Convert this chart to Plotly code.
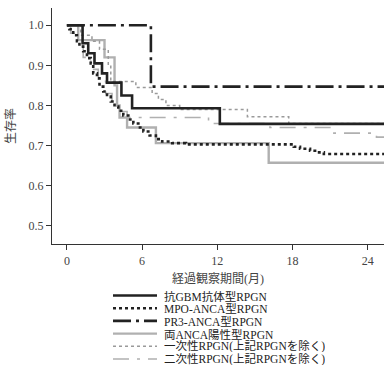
import plotly.graph_objects as go

# ---- data (months, survival) ----
names = ["抗GBM抗体型RPGN", "MPO-ANCA型RPGN", "PR3-ANCA型RPGN",
         "両ANCA陽性型RPGN", "一次性RPGN(上記RPGNを除く)", "二次性RPGN(上記RPGNを除く)"]

gbm_t = [0, 1.25, 1.7, 2.2, 2.8, 3.2, 4.35, 5.2, 12.2, 25.3]
gbm_s = [1.0, 0.955, 0.93, 0.905, 0.88, 0.857, 0.825, 0.793, 0.754, 0.754]

mpo_t = [0, 0.2, 0.5, 0.8, 1.0, 1.3, 1.6, 1.9, 2.1, 2.4, 2.6, 2.9, 3.2, 3.5, 3.8, 4.1,
         4.5, 4.9, 5.3, 5.7, 6.1, 6.6, 7.1, 7.6, 8.4, 9.5, 18.1, 18.6, 19.4, 20.0, 20.5, 25.3]
mpo_s = [1.0, 0.99, 0.975, 0.96, 0.947, 0.935, 0.918, 0.905, 0.88, 0.868, 0.847, 0.835,
         0.822, 0.81, 0.797, 0.787, 0.775, 0.765, 0.755, 0.745, 0.735, 0.725, 0.716, 0.71,
         0.706, 0.703, 0.697, 0.692, 0.687, 0.683, 0.679, 0.679]

pr3_t = [0, 6.7, 25.3]
pr3_s = [1.0, 0.847, 0.847]

both_t = [0, 0.9, 3.0, 3.8, 4.0, 4.2, 4.8, 7.1, 16.1, 25.3]
both_s = [1.0, 0.963, 0.92, 0.85, 0.80, 0.77, 0.745, 0.706, 0.657, 0.657]

prim_t = [0, 1.1, 2.0, 2.6, 3.3, 3.5, 5.5, 6.8, 7.3, 7.9, 9.0, 14.4, 17.7, 25.3]
prim_s = [1.0, 0.975, 0.96, 0.94, 0.9, 0.86, 0.845, 0.83, 0.815, 0.80, 0.79, 0.772, 0.755, 0.755]

sec_t = [0, 0.3, 0.8, 1.3, 1.9, 2.5, 3.1, 3.6, 4.2, 4.8, 11.3, 16.2, 21.3, 24.7, 25.3]
sec_s = [1.0, 0.98, 0.95, 0.92, 0.89, 0.86, 0.83, 0.80, 0.785, 0.77, 0.755, 0.745, 0.731, 0.721, 0.721]

x_ticks = [0, 6, 12, 18, 24]
y_ticks = [0.5, 0.6, 0.7, 0.8, 0.9, 1.0]
x_title = "経過観察期間(月)"
y_title = "生存率"

# ---- styles ----
styles = [
    dict(color="#222222", width=2.6, dash="solid"),
    dict(color="#222222", width=2.6, dash="dot"),
    dict(color="#222222", width=2.6, dash="18px,5px,3px,5px"),
    dict(color="#b0b0b0", width=2.4, dash="solid"),
    dict(color="#9a9a9a", width=1.5, dash="dot"),
    dict(color="#b0b0b0", width=1.6, dash="16px,8px,3px,8px"),
]
series = [(gbm_t, gbm_s), (mpo_t, mpo_s), (pr3_t, pr3_s),
          (both_t, both_s), (prim_t, prim_s), (sec_t, sec_s)]

FONT = "Liberation Serif, DejaVu Serif, Noto Sans CJK JP"
TXT = "#444444"

fig = go.Figure()
draw_order = [3, 5, 4, 1, 0, 2]
for i in draw_order:
    t, s = series[i]
    fig.add_trace(go.Scatter(x=t, y=s, mode="lines", line_shape="hv",
                             line=styles[i], name=names[i], showlegend=False,
                             hoverinfo="skip"))

W, H = 386, 366
ml, mr, mt, mb = 52, 2, 8, 122
pw, ph = W - ml - mr, H - mt - mb

def px2paper(px, py):
    return (px - ml) / pw, (H - mb - py) / ph

# manual legend
row_y = [295.5, 308.2, 320.9, 333.6, 346.3, 359]
shapes = []
annotations = []
for i, ry in enumerate(row_y):
    x0, y0 = px2paper(113, ry)
    x1, _ = px2paper(157, ry)
    shapes.append(dict(type="line", xref="paper", yref="paper", x0=x0, x1=x1, y0=y0, y1=y0,
                       line=styles[i]))
    tx, _ = px2paper(163, ry)
    annotations.append(dict(xref="paper", yref="paper", x=tx, y=y0, text=names[i],
                            showarrow=False, xanchor="left", yanchor="middle", height=12,
                            borderpad=0,
                            font=dict(family=FONT, size=11.5, color="#222222")))

fig.update_layout(
    width=W, height=H,
    margin=dict(l=ml, r=mr, t=mt, b=mb),
    paper_bgcolor="white", plot_bgcolor="white",
    font=dict(family=FONT, size=12, color=TXT),
    shapes=shapes, annotations=annotations,
    xaxis=dict(range=[-1.19, 25.3], tickvals=x_ticks, ticktext=[str(v) for v in x_ticks],
               showgrid=False, zeroline=False, showline=True, linecolor="#333333",
               linewidth=1.3, ticks="outside", ticklen=5, tickcolor="#333333",
               tickfont=dict(family=FONT, size=12, color=TXT),
               title=dict(text=x_title, font=dict(family=FONT, size=12, color=TXT), standoff=8)),
    yaxis=dict(range=[0.4546, 1.043], tickvals=y_ticks, ticktext=[f"{v:.1f}" for v in y_ticks],
               showgrid=False, zeroline=False, showline=True, linecolor="#333333",
               linewidth=1.3, ticks="outside", ticklen=5, tickcolor="#333333",
               tickfont=dict(family=FONT, size=12, color=TXT),
               title=dict(text=y_title, font=dict(family=FONT, size=12, color=TXT), standoff=10)),
)

fig.write_html("out.html")
